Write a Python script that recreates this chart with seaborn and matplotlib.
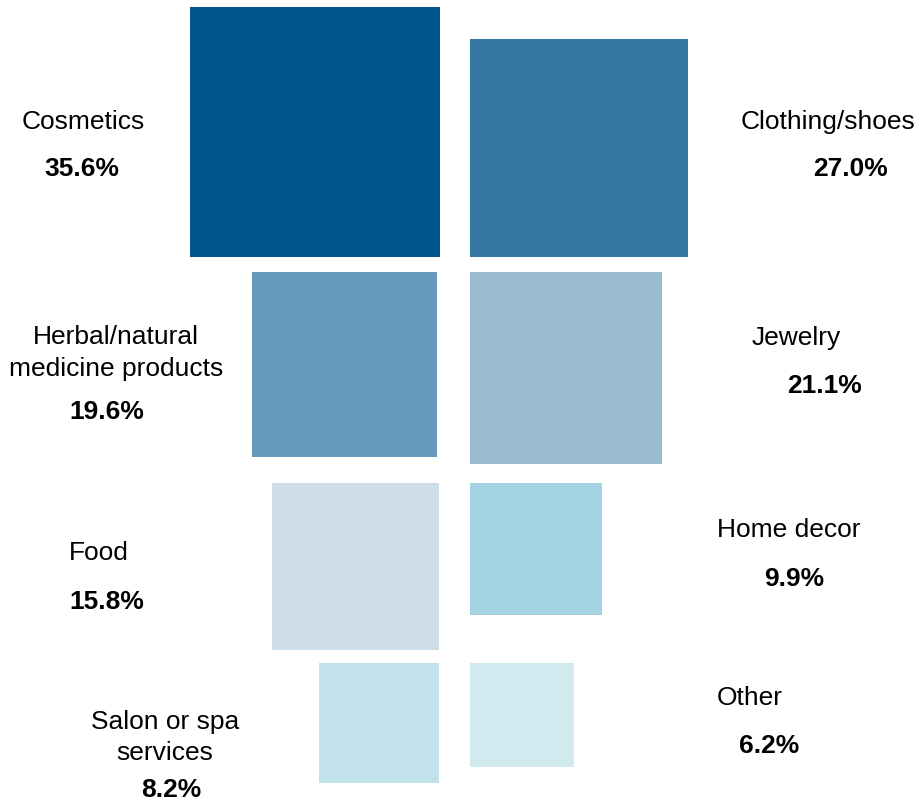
import numpy as np
import pandas as pd
import matplotlib
matplotlib.use("Agg")
import matplotlib.pyplot as plt
import seaborn as sns

# ---- data ----
categories = ["Cosmetics", "Clothing/shoes", "Herbal/natural\nmedicine products", "Jewelry",
              "Food", "Home decor", "Salon or spa\nservices", "Other"]
values = [35.6, 27.0, 19.6, 21.1, 15.8, 9.9, 8.2, 6.2]
value_labels = ["35.6%", "27.0%", "19.6%", "21.1%", "15.8%", "9.9%", "8.2%", "6.2%"]
colors = ["#02568b", "#3778a2", "#6699bb", "#9bbcd0", "#cddde7", "#a3d3e2", "#c1e1eb", "#d1e9ef"]
rows = [0, 0, 1, 1, 2, 2, 3, 3]
sides = ["L", "R", "L", "R", "L", "R", "L", "R"]

df = pd.DataFrame({"category": categories, "value": values, "label": value_labels,
                   "color": colors, "row": rows, "side": sides})

# ---- layout (pixels) ----
W, H = 919, 804
scale = 250 / np.sqrt(35.6)          # side length in px per sqrt(percent)
left_edge_right = 440
right_edge_left = 470
row_anchor = {0: ("bottom", 258), 1: ("top", 273), 2: ("top", 484), 3: ("top", 664)}
right_edge_by_item = [440, None, 437, None, 439, None, 439, None]

# label positions (center x, center y of name lines, center y of value, value center x)
label_pos = [
    (83, [122], 169, 82),
    (828, [122], 169, 850),
    (116, [337, 369], 412, 107),
    (796, [338], 386, 825),
    (99, [553], 602, 107),
    (789, [530], 579, 794),
    (165, [722, 753], 790, 171),
    (750, [698], 746, 769),
]

sns.set_theme(style="white")
plt.rcParams["font.family"] = ["Liberation Sans", "DejaVu Sans"]

fig = plt.figure(figsize=(W / 100, H / 100), dpi=100)
ax = fig.add_axes([0, 0, 1, 1])
ax.set_xlim(0, W)
ax.set_ylim(H, 0)
ax.axis("off")

df["size"] = np.sqrt(df["value"]) * scale
for i, r in df.iterrows():
    s = r["size"]
    kind, anchor = row_anchor[r["row"]]
    top = anchor - s if kind == "bottom" else anchor
    if r["side"] == "L":
        x0 = (right_edge_by_item[i] or left_edge_right) - s
    else:
        x0 = right_edge_left
    ax.bar(x0, s, width=s, bottom=top, align="edge", color=r["color"], linewidth=0)

fs = 19
for i, r in df.iterrows():
    cx, ys, vy, vx = label_pos[i]
    for line, y in zip(r["category"].split("\n"), ys):
        ax.text(cx, y, line, ha="center", va="center", fontsize=fs, color="black")
    ax.text(vx, vy, r["label"], ha="center", va="center", fontsize=fs,
            fontweight="bold", color="black")

fig.savefig("out.png", dpi=100, facecolor="white")
